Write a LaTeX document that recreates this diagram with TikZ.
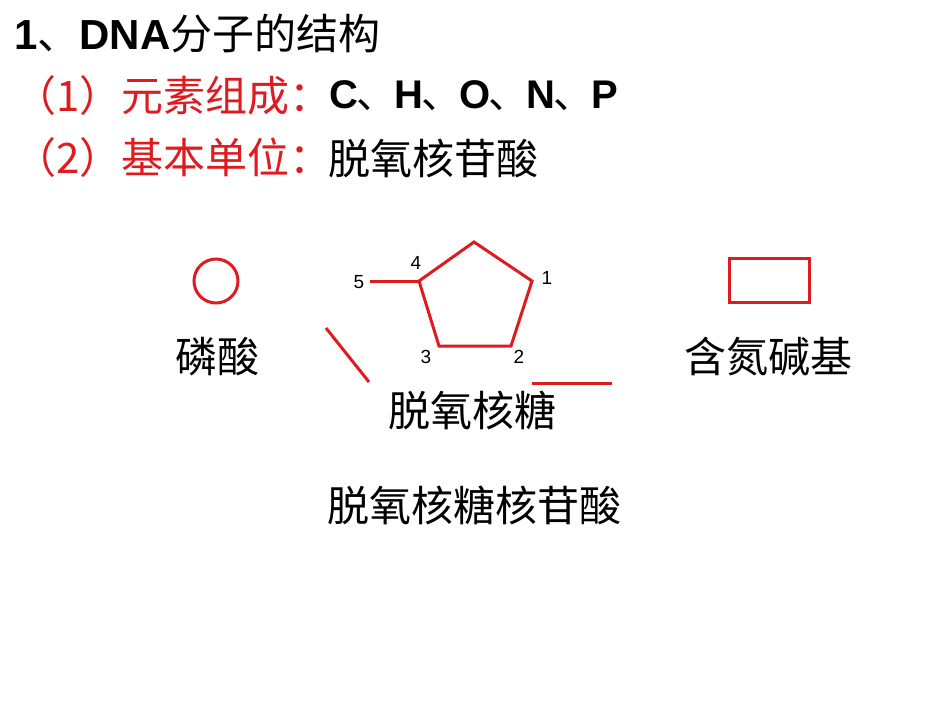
\documentclass[tikz,border=0pt]{standalone}
\usepackage{fontspec}
\setmainfont{Liberation Sans}
\newfontfamily\cjk{Noto Sans CJK SC}
\newfontfamily\lat{Liberation Sans}
\definecolor{myred}{RGB}{222,28,32}
\newcommand{\dunhao}{{\cjk\kern-2pt 、\kern-2pt}}
\begin{document}
\begin{tikzpicture}[x=1pt,y=-1pt,
  txt/.style={inner sep=0pt,anchor=west,font=\fontsize{42}{44}\selectfont},
  lab/.style={inner sep=0pt,font=\fontsize{42}{44}\selectfont\cjk},
  num/.style={inner sep=0pt,font=\fontsize{19}{20}\selectfont\lat},
  redline/.style={draw=myred,line width=3pt}]
\useasboundingbox[fill=white] (0,0) rectangle (950,713);
% headings
\node[txt] (title) at (14,34) {{\lat\bfseries 1}{\cjk 、}{\lat\bfseries DNA}{\cjk 分子的结构}};
\node[txt,text=myred] (l1) at (14,96) {\cjk （1）元素组成：};
\node[txt,anchor=west,font=\fontsize{40}{44}\selectfont] (l1b) at ([xshift=-2pt]l1.east) {{\lat\bfseries C}\dunhao{\lat\bfseries H}\dunhao{\lat\bfseries O}\dunhao{\lat\bfseries N}\dunhao{\lat\bfseries P}};
\node[txt,text=myred] (l2) at (14,158) {\cjk （2）基本单位：};
\node[txt,anchor=west] (l2b) at ([xshift=-3pt]l2.east) {\cjk 脱氧核苷酸};
% phosphate
\node[draw=myred,line width=3pt,circle,minimum size=44pt,inner sep=0pt] (ph) at (216,281) {};
\node[lab] (phl) at (217,357) {磷酸};
% pentagon
\coordinate (p0) at (474,242);
\coordinate (p1) at (532,281);
\coordinate (p2) at (511,346);
\coordinate (p3) at (439,346);
\coordinate (p4) at (419,281);
\coordinate (p5) at (370,281);
\draw[redline,line join=miter] (p0) -- (p1) -- (p2) -- (p3) -- (p4) -- cycle;
\draw[redline] (p5) -- (p4);
\node[num] (n5) at (359,282) {5};
\node[num] (n4) at (416,263) {4};
\node[num] (n1) at (547,278) {1};
\node[num] (n2) at (519,357) {2};
\node[num] (n3) at (426,357) {3};
\node[lab] (sugar) at (472,410) {脱氧核糖};
% bonds
\coordinate (a1) at (326,328);
\coordinate (a2) at (369,382);
\coordinate (b1) at (532,383);
\coordinate (b2) at (612,383);
\draw[redline] (a1) -- (a2);
\draw[redline] (b1) -- (b2);
% base
\node[draw=myred,line width=3pt,rectangle,minimum width=80pt,minimum height=44pt,inner sep=0pt] (base) at (769,280) {};
\node[lab] (basel) at (768,357) {含氮碱基};
% nucleotide
\node[lab] (nuc) at (474,505) {脱氧核糖核苷酸};
\end{tikzpicture}
\end{document}
